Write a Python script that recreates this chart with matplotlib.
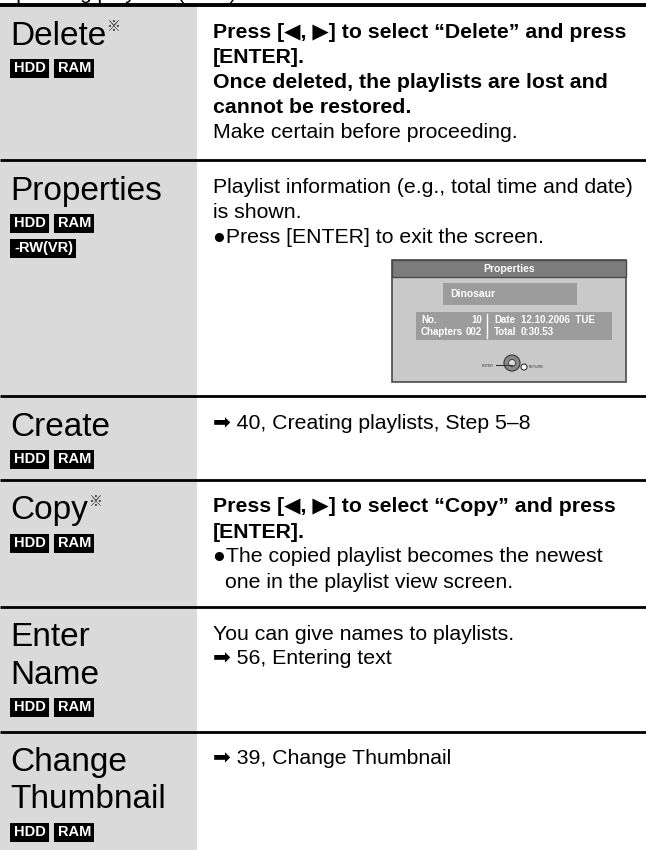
#!/usr/bin/env python3
"""Playlist operations table (manual page excerpt)."""

import matplotlib

matplotlib.use("Agg")
import matplotlib.pyplot as plt
from matplotlib.patches import Rectangle, Circle

FONT = ["Liberation Sans", "DejaVu Sans", "Noto Sans CJK JP"]
NARROW = ["Liberation Sans Narrow", "Liberation Sans", "DejaVu Sans"]
plt.rcParams["font.family"] = FONT

# ---- table content -------------------------------------------------------
row_titles = ["Delete", "Properties", "Create", "Copy", "Enter\nName", "Change\nThumbnail"]
row_marks = [True, False, False, True, False, False]
row_discs = [
    [["HDD", "RAM"]],
    [["HDD", "RAM"], ["-RW(VR)"]],
    [["HDD", "RAM"]],
    [["HDD", "RAM"]],
    [["HDD", "RAM"]],
    [["HDD", "RAM"]],
]
# (text, bold, indent)
row_lines = [
    [
        ("Press [\u25C0, \u25B6] to select \u201cDelete\u201d and press", True, 0),
        ("[ENTER].", True, 0),
        ("Once deleted, the playlists are lost and", True, 0),
        ("cannot be restored.", True, 0),
        ("Make certain before proceeding.", False, 0),
    ],
    [
        ("Playlist information (e.g., total time and date)", False, 0),
        ("is shown.", False, 0),
        ("\u25CFPress [ENTER] to exit the screen.", False, 0),
    ],
    [("\u27A1 40, Creating playlists, Step 5\u20138", False, 0)],
    [
        ("Press [\u25C0, \u25B6] to select \u201cCopy\u201d and press", True, 0),
        ("[ENTER].", True, 0),
        ("\u25CFThe copied playlist becomes the newest", False, 0),
        ("one in the playlist view screen.", False, 1),
    ],
    [
        ("You can give names to playlists.", False, 0),
        ("\u27A1 56, Entering text", False, 0),
    ],
    [("\u27A1 39, Change Thumbnail", False, 0)],
]
row_tops = [5, 160, 396, 480, 607, 732]

# on-screen "Properties" window
screen_title = "Properties"
screen_name = "Dinosaur"
screen_left = [("No.", "10"), ("Chapters", "002")]
screen_right = [("Date", "12.10.2006  TUE"), ("Total", "0:30.53")]

W, H = 646, 850
fig = plt.figure(figsize=(W / 100, H / 100), dpi=100)
ax = fig.add_axes([0, 0, 1, 1])
ax.set_xlim(0, W)
ax.set_ylim(H, 0)
ax.axis("off")

GRAY = "#dadada"
COL_W = 197
TX = 213

ax.add_patch(Rectangle((0, row_tops[0]), COL_W, H - row_tops[0], fc=GRAY, ec="none"))

# heading of the page above, only its lowest edge is inside the crop
ax.text(0, -1.5, "Operating playlists (cont.)", fontsize=15, va="baseline", ha="left")

for i, top in enumerate(row_tops):
    ax.plot([0, W], [top, top], color="black", lw=2.8 if i == 0 else 2.0, solid_capstyle="butt")

fig.canvas.draw()
rend = fig.canvas.get_renderer()
inv = ax.transData.inverted()


def extent(t):
    bb = t.get_window_extent(rend)
    (x0, y0), (x1, y1) = inv.transform([(bb.x0, bb.y0), (bb.x1, bb.y1)])
    return x0, x1


for i, top in enumerate(row_tops):
    # heading
    hlines = row_titles[i].split("\n")
    y = top + 31
    for k, ht in enumerate(hlines):
        t = ax.text(10, y, ht, fontsize=24, va="center", ha="left")
        if row_marks[i] and k == len(hlines) - 1:
            x0, x1 = extent(t)
            ax.text(x1 + 1, y - 9, "\u203B", fontsize=10, va="center", ha="left",
                    color="#333333", family=["Noto Sans CJK JP", "DejaVu Sans"])
        if k < len(hlines) - 1:
            y += 37
    # disc badges
    by = y + 32
    for group in row_discs[i]:
        bx = 10
        for lab in group:
            t = ax.text(bx + 4, by, lab, fontsize=10.5, fontweight="bold", color="white",
                        va="center", ha="left", family=NARROW)
            x0, x1 = extent(t)
            ax.add_patch(Rectangle((bx, by - 9.5), (x1 - x0) + 7, 19, fc="black", ec="none", zorder=1))
            t.set_zorder(2)
            bx = bx + (x1 - x0) + 7 + 5
        by += 25
    # body text
    ly = top + 27
    for txt, bold, ind in row_lines[i]:
        ax.text(TX + ind * 12, ly, txt, fontsize=15.3, va="center", ha="left",
                fontweight="bold" if bold else "normal")
        ly += 25

# ---- screen mock-up inside the Properties row ----------------------------
sx0, sx1, sy0, sy1 = 392, 626, 260, 382
ax.add_patch(Rectangle((sx0, sy0), sx1 - sx0, sy1 - sy0, fc="#c9c9c9", ec="#4a4a4a", lw=1.2))
ax.add_patch(Rectangle((sx0, sy0), sx1 - sx0, 17, fc="#7c7c7c", ec="#4a4a4a", lw=1.0))
ax.text((sx0 + sx1) / 2, sy0 + 8.5, screen_title, fontsize=7.5, fontweight="bold",
        color="white", ha="center", va="center", family=NARROW)
ax.add_patch(Rectangle((443, 283), 134, 22, fc="#9c9c9c", ec="none"))
ax.text(450, 294, screen_name, fontsize=7.5, fontweight="bold", color="white",
        ha="left", va="center", family=NARROW)
ax.add_patch(Rectangle((416, 312), 196, 28, fc="#9c9c9c", ec="none"))
ax.plot([487, 487], [314, 338], color="white", lw=1)
for k, (lab, val) in enumerate(screen_left):
    yy = 320 + k * 12
    ax.text(421, yy, lab, fontsize=7, fontweight="bold", color="white", ha="left", va="center", family=NARROW)
    ax.text(482, yy, val, fontsize=7, fontweight="bold", color="white", ha="right", va="center", family=NARROW)
for k, (lab, val) in enumerate(screen_right):
    yy = 320 + k * 12
    ax.text(494, yy, lab, fontsize=7, fontweight="bold", color="white", ha="left", va="center", family=NARROW)
    ax.text(521, yy, val, fontsize=7, fontweight="bold", color="white", ha="left", va="center", family=NARROW)
# remote control hint icon
ax.plot([496, 512], [365, 365], color="#333333", lw=0.8)
ax.add_patch(Circle((512, 363), 8, fc="#8a8a8a", ec="#333333", lw=0.8))
ax.add_patch(Circle((512, 363), 3.5, fc="#dddddd", ec="#333333", lw=0.6))
ax.add_patch(Circle((524, 367), 3, fc="white", ec="#333333", lw=0.8))
ax.text(494, 365.5, "ENTER", fontsize=2.5, ha="right", va="center", color="#333333")
ax.text(529, 367, "RETURN", fontsize=2.5, ha="left", va="center", color="#333333")

fig.savefig("out.png", dpi=100, facecolor="white")
